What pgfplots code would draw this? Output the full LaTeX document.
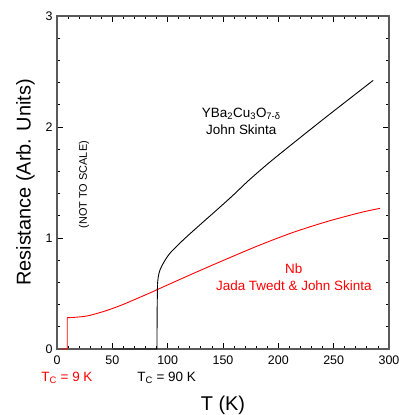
\documentclass[border=0pt]{standalone}
\usepackage{pgfplots}
\pgfplotsset{compat=1.18}
\usepackage{fontspec}
\setmainfont{Liberation Sans}
\definecolor{axgray}{RGB}{90,90,90}
\definecolor{nbred}{RGB}{255,0,0}
\begin{document}
\begin{tikzpicture}
\begin{axis}[
  name=ax,
  scale only axis,
  width=332bp, height=333bp,
  xmin=0, xmax=300, ymin=0, ymax=3,
  xtick={0,50,...,300}, minor x tick num=4,
  ytick={0,1,2,3}, minor y tick num=4,
  tick align=inside,
  major tick length=6bp, minor tick length=3bp,
  axis line style={axgray, line width=1.2pt},
  every tick/.style={black, line width=0.8pt},
  tick label style={font=\fontsize{12.5}{14}\selectfont},
  /pgf/number format/assume math mode=true,
  xticklabel style={yshift=-3bp},
  yticklabel style={xshift=-1bp},
  xlabel={T (K)},
  ylabel={Resistance (Arb. Units)},
  label style={font=\fontsize{20}{24}\selectfont},
  xlabel style={yshift=-25bp},
  ylabel style={yshift=4bp},
  clip=false,
]
\addplot[nbred, line width=0.9pt] coordinates {
(3.6,0) (9.3,0) (9.3,0.282) (12,0.283)
};
\addplot[nbred, line width=0.9pt, smooth, tension=0.5] coordinates {
(12,0.283) (18,0.287) (28.3,0.30) (43.4,0.342) (58.4,0.396) (73.5,0.46)
(88.5,0.525) (93,0.546) (123,0.68) (153.3,0.811) (183.4,0.937)
(213.5,1.051) (243.6,1.147) (273.7,1.228) (291.8,1.267)
};
\addplot[black, line width=0.9pt] coordinates {
(50,0) (90.3,0) (90.5,0.35) (90.8,0.58)
};
\addplot[black, line width=0.9pt, smooth, tension=0.5] coordinates {
(90.8,0.58) (91.5,0.65) (93,0.71) (96,0.772) (102,0.862) (114,0.982)
(129,1.117) (144.3,1.252) (159.3,1.387) (173.7,1.523) (195.4,1.709)
(240,2.065) (285.7,2.42)
};
\node[font=\fontsize{13.5}{16}\selectfont, align=center] at (axis cs:166.5,2.05)
  {YBa\textsubscript{2}Cu\textsubscript{3}O\textsubscript{7-δ}\\[1pt] John Skinta};
\node[font=\fontsize{13.5}{16}\selectfont, align=center, text=nbred] at (axis cs:214,0.645)
  {Nb\\[1pt] Jada Twedt \& John Skinta};
\node[font=\fontsize{11}{13}\selectfont, rotate=90] at (axis cs:24.4,1.48) {(NOT TO SCALE)};
\node[font=\fontsize{13.5}{16}\selectfont, text=nbred] at (axis cs:9,-0.26) {T\textsubscript{C} = 9 K};
\node[font=\fontsize{13.5}{16}\selectfont] at (axis cs:99,-0.26) {T\textsubscript{C} = 90 K};
\end{axis}
\pgfresetboundingbox
\path ([shift={(-57bp,-66bp)}]ax.south west) rectangle ([shift={(10bp,16bp)}]ax.north east);
\end{tikzpicture}
\end{document}
